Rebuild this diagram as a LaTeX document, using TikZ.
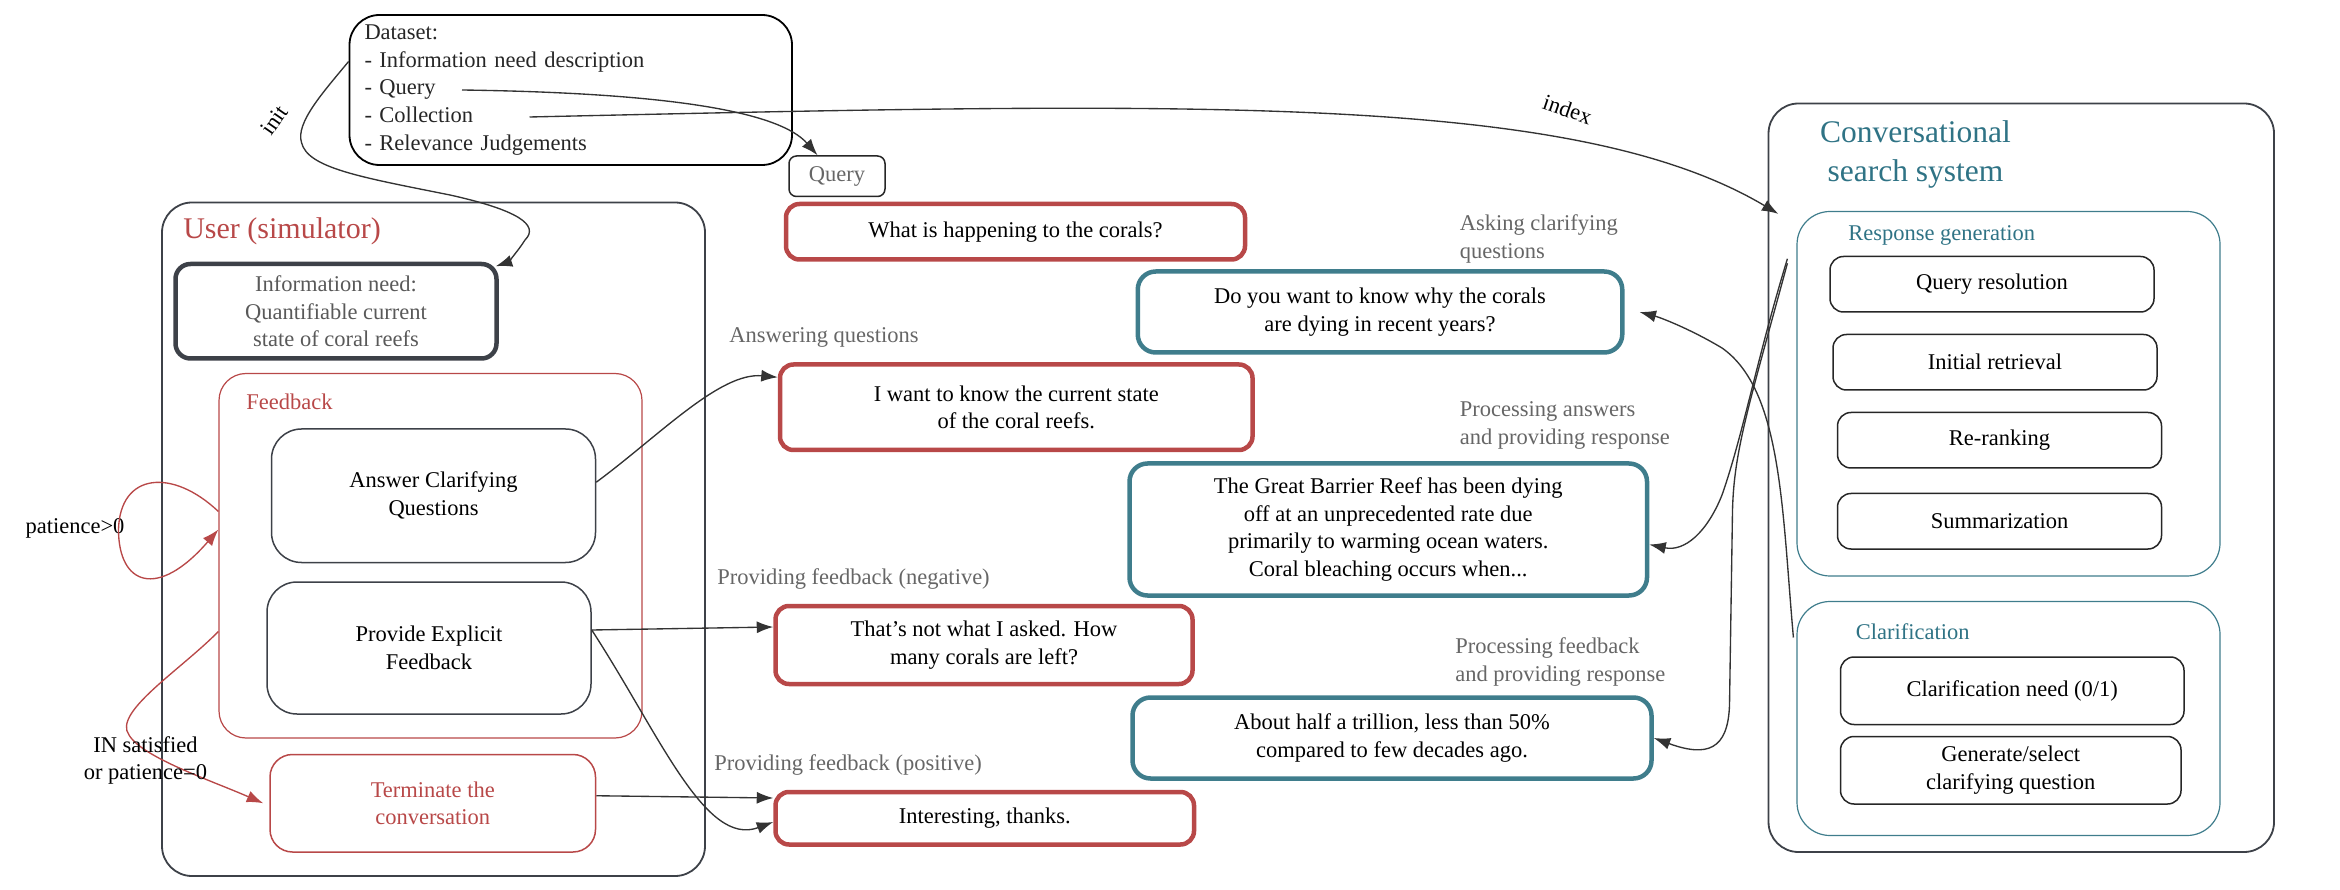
\documentclass[tikz,border=0pt]{standalone}
\usepackage{fontspec}
\setmainfont{Liberation Serif}
\usetikzlibrary{arrows.meta}

\definecolor{usrred}{HTML}{B84848}
\definecolor{systeal}{HTML}{3F7D8C}
\definecolor{titleteal}{HTML}{2F7385}
\definecolor{boxgray}{HTML}{3D4148}
\definecolor{lblgray}{HTML}{666666}

\tikzset{
  every node/.style={font=\fontsize{15}{18.5}\selectfont},
  usrmsg/.style={draw=usrred,line width=3pt,rounded corners=9pt,align=center,inner sep=0pt},
  sysmsg/.style={draw=systeal,line width=3pt,rounded corners=12pt,align=center,inner sep=0pt},
  plainbox/.style={draw=boxgray,line width=1pt,rounded corners=20pt,align=center,inner sep=0pt},
  smallbox/.style={draw=black!85,line width=1pt,rounded corners=9pt,align=center,inner sep=0pt},
  redframe/.style={draw=usrred,line width=0.8pt,rounded corners=18pt,inner sep=0pt},
  tealframe/.style={draw=systeal,line width=0.8pt,rounded corners=22pt,inner sep=0pt},
  steplbl/.style={text=lblgray,align=left,anchor=west,inner sep=0pt},
  flow/.style={draw=black!80,line width=0.9pt,-{Latex[length=11pt,width=8pt]}},
  redflow/.style={draw=usrred,line width=0.9pt,-{Latex[length=11pt,width=8pt]}},
}

\begin{document}
\begin{tikzpicture}[x=1pt,y=-1pt]
\useasboundingbox (0,0) rectangle (1560,593);

% user side
\node[plainbox,line width=1.2pt,minimum width=362pt,minimum height=449pt] (user) at (289,359.5) {};
\node[text=usrred,anchor=west,inner sep=0pt,font=\fontsize{20}{24}\selectfont] (usertitle) at (122,154) {User (simulator)};
\node[draw=boxgray,line width=3pt,rounded corners=10pt,minimum width=214pt,minimum height=63pt,align=center,inner sep=0pt,text=black!65] (need) at (224,207.5) {Information need:\\Quantifiable current\\state of coral reefs};
\node[redframe,minimum width=282pt,minimum height=243pt] (fb) at (287,370.5) {};
\node[text=usrred,anchor=west,inner sep=0pt] (fbtitle) at (164,268) {Feedback};
\node[plainbox,minimum width=216pt,minimum height=89pt] (acq) at (289,330.5) {Answer Clarifying\\Questions};
\node[plainbox,minimum width=216pt,minimum height=88pt] (pef) at (286,432) {Provide Explicit\\Feedback};
\node[plainbox,draw=usrred,text=usrred,rounded corners=15pt,minimum width=217pt,minimum height=65pt] (term) at (288.5,535.5) {Terminate the\\conversation};
\node (patlbl) at (50,352) {patience>0};

% dataset
\node[draw=black,line width=1.2pt,rounded corners=20pt,minimum width=295pt,minimum height=100pt,text width=275pt,inner xsep=10pt,inner ysep=0pt,align=left,text=black!85] (data) at (380.5,60) {Dataset:\\- Information need description\\- Query\\- Collection\\- Relevance Judgements};
\coordinate (qstart) at (308,60);
\coordinate (cstart) at (353,78);
\node[smallbox,rounded corners=5pt,text=lblgray,minimum width=64pt,minimum height=27pt] (query) at (558,117.5) {Query};

% conversation
\node[usrmsg,minimum width=306pt,minimum height=37pt] (q0) at (677,154.5) {What is happening to the corals?};
\node[usrmsg,minimum width=315pt,minimum height=57pt] (ans) at (677.5,271.5) {I want to know the current state\\of the coral reefs.};
\node[usrmsg,minimum width=278pt,minimum height=52pt] (neg) at (656,430) {That's not what I asked. How\\many corals are left?};
\node[usrmsg,minimum width=279pt,minimum height=35pt] (pos) at (656.5,545.5) {Interesting, thanks.};
\node[sysmsg,minimum width=323pt,minimum height=54pt] (cq) at (920,208) {Do you want to know why the corals\\are dying in recent years?};
\node[sysmsg,minimum width=345pt,minimum height=88pt] (resp1) at (925.5,353) {The Great Barrier Reef has been dying\\off at an unprecedented rate due\\primarily to warming ocean waters.\\Coral bleaching occurs when...};
\node[sysmsg,minimum width=346pt,minimum height=54pt] (resp2) at (928,492) {About half a trillion, less than 50\%\\compared to few decades ago.};

\node[steplbl] (lans) at (486,225) {Answering questions};
\node[steplbl] (lneg) at (478,386) {Providing feedback (negative)};
\node[steplbl] (lpos) at (476,510) {Providing feedback (positive)};
\node[steplbl] (lcq) at (973,159.5) {Asking clarifying\\questions};
\node[steplbl] (lresp1) at (973,283.5) {Processing answers\\and providing response};
\node[steplbl] (lresp2) at (970,441.5) {Processing feedback\\and providing response};

% system side
\node[plainbox,line width=1.2pt,minimum width=337pt,minimum height=499pt] (css) at (1347.5,318.5) {};
\node[text=titleteal,align=center,inner sep=0pt,font=\fontsize{21}{26}\selectfont] (csstitle) at (1277,103) {Conversational\\search system};
\node[tealframe,minimum width=282pt,minimum height=243pt] (gen) at (1339,262.5) {};
\node[text=titleteal,anchor=west,inner sep=0pt] (gentitle) at (1232,157) {Response generation};
\node[smallbox,minimum width=216pt,minimum height=37pt] (qres) at (1328,189.5) {Query resolution};
\node[smallbox,minimum width=216pt,minimum height=37pt] (iret) at (1330,241.5) {Initial retrieval};
\node[smallbox,minimum width=216pt,minimum height=37pt] (rrank) at (1333,293.5) {Re-ranking};
\node[smallbox,minimum width=216pt,minimum height=37pt] (summ) at (1333,347.5) {Summarization};
\node[tealframe,minimum width=282pt,minimum height=156pt] (clar) at (1339,479) {};
\node[text=titleteal,anchor=west,inner sep=0pt] (clartitle) at (1237,421) {Clarification};
\node[smallbox,minimum width=229pt,minimum height=45pt] (cneed) at (1341.5,460.5) {Clarification need (0/1)};
\node[smallbox,minimum width=227pt,minimum height=45pt] (cgen) at (1340.5,513.5) {Generate/select\\clarifying question};

% connectors
\draw[flow] ([yshift=19pt]data.west) .. controls (215,62) and (197,82) .. (201,95)
  .. controls (205,112) and (240,118) .. (300,130)
  .. controls (345,140) and (360,150) .. (350,160)
  .. controls (345,168) and (338,175) .. ([shift={(-2pt,-3pt)}]need.north east);
\node[rotate=55] (initlbl) at (183,80) {init};
\draw[flow] (qstart) .. controls (450,62) and (520,75) .. ([xshift=-13pt]query.north);
\draw[flow] (cstart) .. controls (800,68) and (1050,62) .. ([xshift=-12pt,yshift=-2pt]gen.north west);
\node[rotate=-19] (idxlbl) at (1045,73) {index};

\draw[flow] ([yshift=9pt]acq.east) .. controls (440,290) and (480,248) .. ([yshift=20pt]ans.west);
\draw[flow] ([yshift=12pt]pef.east) -- ([yshift=12pt]neg.west);
\draw[flow] ([yshift=12pt]pef.east) .. controls (440,490) and (470,565) .. ([yshift=-2.5pt]pos.west);
\draw[flow] ([yshift=5pt]term.east) -- ([yshift=13.5pt]pos.west);

\draw[redflow] ([yshift=29.5pt]fb.west) .. controls (115,312) and (80,315) .. (79,353)
  .. controls (79,390) and (105,400) .. ([yshift=17.5pt]fb.west);
\draw[redflow] ([yshift=-50.5pt]fb.west) .. controls (120,447) and (75,475) .. (86,490)
  .. controls (95,505) and (140,520) .. ([xshift=-4pt]term.west);
\node[align=center,inner sep=0pt] (inlbl) at (97,507) {IN satisfied\\or patience=0};

\draw[flow] ([xshift=-2pt,yshift=54pt]clar.west) .. controls (1188,340) and (1188,260) .. (1148,232)
  .. controls (1128,220) and (1108,212) .. ([xshift=10pt]cq.east);
\draw[flow] ([xshift=-6pt,yshift=90pt]gen.west) .. controls (1171,240) and (1162,290) .. (1148,330)
  .. controls (1138,355) and (1123,368) .. ([yshift=-10pt]resp1.east);
\draw[flow] ([xshift=-6pt,yshift=87pt]gen.west) .. controls (1166,270) and (1156,300) .. (1155,340)
  -- (1153,470) .. controls (1152,500) and (1138,505) .. (resp2.east);
\end{tikzpicture}
\end{document}
